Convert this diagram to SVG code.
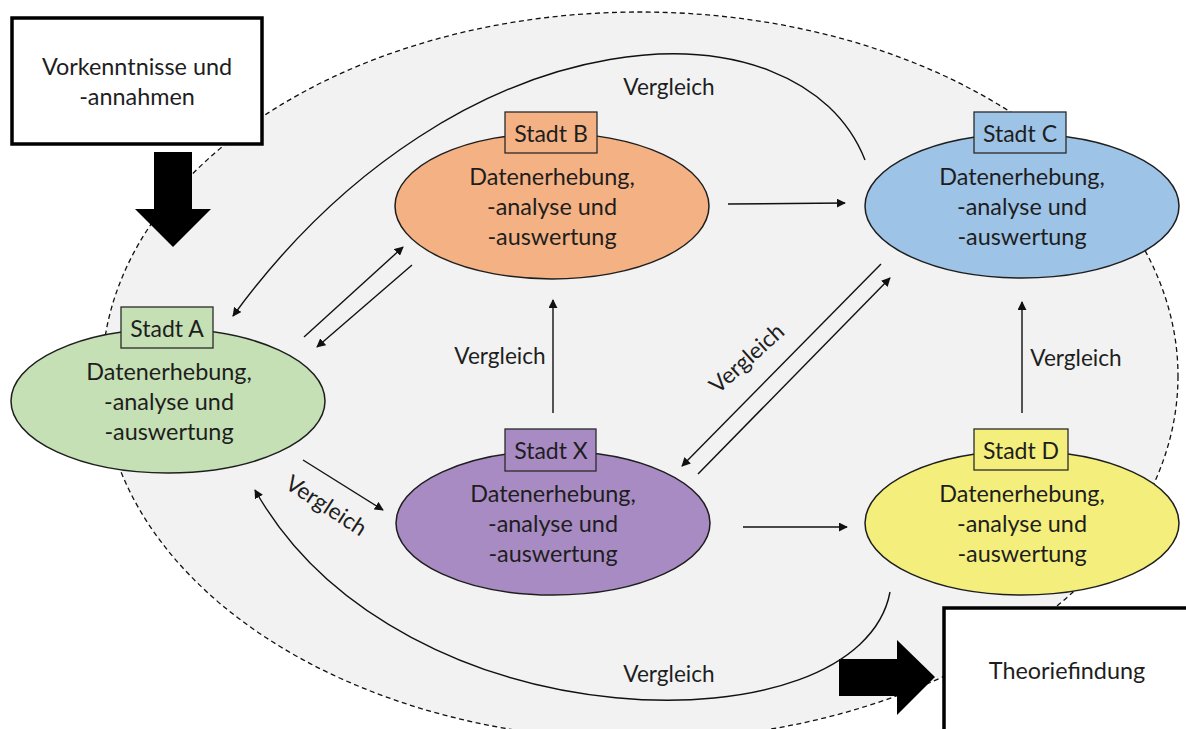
<svg xmlns="http://www.w3.org/2000/svg" width="1186" height="729" viewBox="0 0 1186 729">
  <defs>
    <marker id="arrow" viewBox="0 0 10 10" refX="9" refY="5" markerWidth="9" markerHeight="9" markerUnits="userSpaceOnUse" orient="auto">
      <path d="M0,0 L10,5 L0,10 z" fill="#111"/>
    </marker>
    <style>
      text { font-family: Lato, "Open Sans", sans-serif; fill: #1e1e1e; }
      .body { font-size: 23.4px; text-anchor: middle; }
      .tagtxt { font-size: 23px; text-anchor: middle; }
      .lbl { font-size: 22.6px; }
      .node { stroke: #1e1e1e; stroke-width: 1.5; }
      .tag { stroke: #2a2a2a; stroke-width: 1.3; }
      .box { fill: #fff; stroke: #000; stroke-width: 3.5; }
      .link { fill: none; stroke: #111; stroke-width: 1.4; marker-end: url(#arrow); }
      .green { fill: #c5e0b4; }
      .orange { fill: #f4b183; }
      .blue { fill: #9dc3e6; }
      .purple { fill: #a98bc4; }
      .yellow { fill: #f4ef7c; }
    </style>
  </defs>

  <rect width="1186" height="729" fill="#fff"/>

  <!-- study area -->
  <ellipse id="area" cx="640" cy="376" rx="538" ry="364" fill="#f2f2f2" stroke="#111" stroke-width="1.3" stroke-dasharray="5 3.5"/>

  <!-- input box and arrow -->
  <g id="vorkenntnisse">
    <rect class="box" x="12" y="18" width="250" height="126"/>
    <text class="body" x="137" y="75">Vorkenntnisse und</text>
    <text class="body" x="137" y="105">-annahmen</text>
    <polygon points="154,152 192,152 192,209 211,209 173,247 135,209 154,209" fill="#000"/>
  </g>

  <!-- output box and arrow -->
  <g id="theoriefindung">
    <polygon points="839,659 897,659 897,640 935,677 897,715 897,696 839,696" fill="#000"/>
    <rect class="box" x="944" y="608" width="260" height="140"/>
    <text class="body" x="1067" y="679">Theoriefindung</text>
  </g>

  <!-- connectors -->
  <g id="connectors">
    <path class="link" d="M865,160 C800,-5 460,5 233,316"/>
    <path class="link" d="M890,592 C860,752 400,748 255,490"/>
    <line class="link" x1="304" y1="337" x2="403" y2="247"/>
    <line class="link" x1="412" y1="265" x2="317" y2="347"/>
    <line class="link" x1="728" y1="204" x2="845" y2="203"/>
    <line class="link" x1="553" y1="413" x2="553" y2="300"/>
    <line class="link" x1="881" y1="264" x2="682" y2="466"/>
    <line class="link" x1="698" y1="474" x2="890" y2="278"/>
    <line class="link" x1="303" y1="460" x2="383" y2="510"/>
    <line class="link" x1="743" y1="527" x2="847" y2="527"/>
    <line class="link" x1="1022" y1="413" x2="1022" y2="302"/>

    <text class="lbl" x="669" y="95" text-anchor="middle">Vergleich</text>
    <text class="lbl" x="669" y="682" text-anchor="middle">Vergleich</text>
    <text class="lbl" x="500" y="364" text-anchor="middle">Vergleich</text>
    <text class="lbl" x="1076" y="366" text-anchor="middle">Vergleich</text>
    <text class="lbl" x="0" y="0" text-anchor="middle" transform="translate(752,364) rotate(-42)">Vergleich</text>
    <text class="lbl" x="0" y="0" text-anchor="middle" transform="translate(322,512) rotate(33)">Vergleich</text>
  </g>

  <!-- city nodes -->
  <g id="stadt-a">
    <ellipse class="node green" cx="168" cy="401" rx="157" ry="72"/>
    <rect class="tag green" x="121" y="307" width="92" height="41"/>
    <text class="tagtxt" x="167" y="337">Stadt A</text>
    <text class="body" x="169" y="380">Datenerhebung,</text>
    <text class="body" x="169" y="410">-analyse und</text>
    <text class="body" x="169" y="440">-auswertung</text>
  </g>

  <g id="stadt-b">
    <ellipse class="node orange" cx="552" cy="206" rx="157" ry="73"/>
    <rect class="tag orange" x="505" y="112" width="92" height="41"/>
    <text class="tagtxt" x="551" y="142">Stadt B</text>
    <text class="body" x="552" y="185">Datenerhebung,</text>
    <text class="body" x="552" y="215">-analyse und</text>
    <text class="body" x="552" y="245">-auswertung</text>
  </g>

  <g id="stadt-c">
    <ellipse class="node blue" cx="1022" cy="206" rx="157" ry="72"/>
    <rect class="tag blue" x="974" y="112" width="92" height="41"/>
    <text class="tagtxt" x="1020" y="142">Stadt C</text>
    <text class="body" x="1022" y="185">Datenerhebung,</text>
    <text class="body" x="1022" y="215">-analyse und</text>
    <text class="body" x="1022" y="245">-auswertung</text>
  </g>

  <g id="stadt-x">
    <ellipse class="node purple" cx="553" cy="523" rx="157" ry="72"/>
    <rect class="tag purple" x="505" y="429" width="91" height="42"/>
    <text class="tagtxt" x="551" y="459">Stadt X</text>
    <text class="body" x="553" y="502">Datenerhebung,</text>
    <text class="body" x="553" y="532">-analyse und</text>
    <text class="body" x="553" y="562">-auswertung</text>
  </g>

  <g id="stadt-d">
    <ellipse class="node yellow" cx="1022" cy="523" rx="157" ry="72"/>
    <rect class="tag yellow" x="974" y="429" width="94" height="41"/>
    <text class="tagtxt" x="1021" y="459">Stadt D</text>
    <text class="body" x="1022" y="502">Datenerhebung,</text>
    <text class="body" x="1022" y="532">-analyse und</text>
    <text class="body" x="1022" y="562">-auswertung</text>
  </g>
</svg>
